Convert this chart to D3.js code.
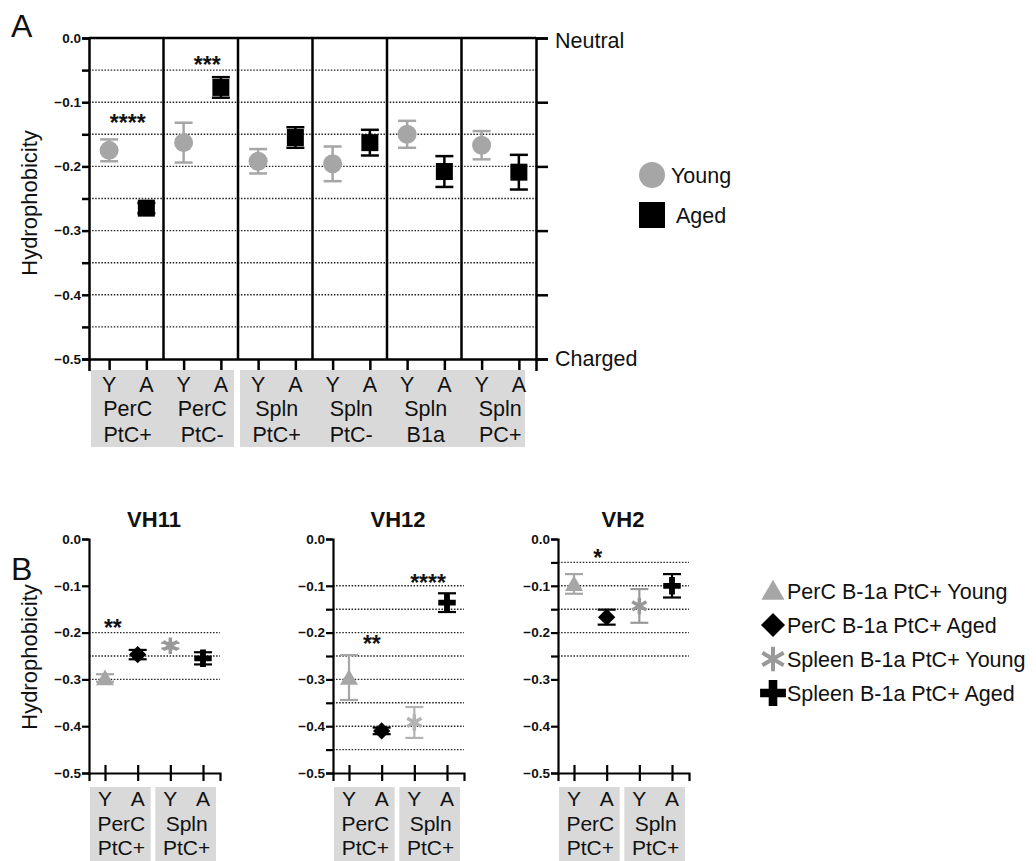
<!DOCTYPE html>
<html>
<head>
<meta charset="utf-8">
<script src="https://cdn.jsdelivr.net/npm/d3@7"></script>
<style>
  body { margin: 0; background: #fff; }
  text { font-family: "Liberation Sans", Arial, Helvetica, sans-serif; fill: #111; }
</style>
</head>
<body>
<svg id="chart" width="1036" height="861"></svg>
<script>
// ---- panel A data ----
const groupsA = ["PerC PtC+", "PerC PtC-", "Spln PtC+", "Spln PtC-", "Spln B1a", "Spln PC+"];
const youngMeanA = [-0.175, -0.163, -0.192, -0.196, -0.150, -0.167];
const youngErrA = [0.017, 0.031, 0.019, 0.027, 0.021, 0.022];
const agedMeanA = [-0.265, -0.077, -0.155, -0.163, -0.208, -0.209];
const agedErrA = [0.008, 0.016, 0.016, 0.020, 0.024, 0.027];
const starsA = [{group: 0, y: -0.125, label: "****"}, {group: 1, y: -0.034, label: "***"}];
const ticksA = [0, -0.1, -0.2, -0.3, -0.4, -0.5];
const gridA = [-0.05, -0.1, -0.15, -0.2, -0.25, -0.3, -0.35, -0.4, -0.45];

// ---- panel B data ----
const catsB = ["PerC Y", "PerC A", "Spln Y", "Spln A"];
const seriesB = ["PerC B-1a PtC+ Young", "PerC B-1a PtC+ Aged", "Spleen B-1a PtC+ Young", "Spleen B-1a PtC+ Aged"];
const titlesB = ["VH11", "VH12", "VH2"];
const vh11Mean = [-0.297, -0.247, -0.228, -0.255];
const vh11Err = [0.008, 0.010, 0.006, 0.013];
const vh12Mean = [-0.296, -0.410, -0.392, -0.136];
const vh12Err = [0.048, 0.007, 0.033, 0.020];
const vh2Mean = [-0.096, -0.167, -0.143, -0.100];
const vh2Err = [0.021, 0.016, 0.036, 0.025];
const vh11Grid = [-0.2, -0.25, -0.3];
const vh12Grid = [-0.1, -0.15, -0.2, -0.25, -0.3, -0.35, -0.4, -0.45];
const vh2Grid = [-0.05, -0.1, -0.15, -0.2, -0.25];
const vh11Stars = [{x: 0.24, y: -0.179, label: "**"}];
const vh12Stars = [{x: 0.7, y: -0.214, label: "**"}, {x: 2.42, y: -0.083, label: "****"}];
const vh2Stars = [{x: 0.73, y: -0.030, label: "*"}];
const ticksB = [0, -0.1, -0.2, -0.3, -0.4, -0.5];

const svg = d3.select("#chart");
const GRAY = "#a6a6a6", BOXGRAY = "#d9d9d9";
const FS = "21.5px";
const fmt = d3.format(".1f");

// ================= PANEL A =================
const A = {left: 89, right: 536, top: 38, bottom: 359};
const yA = d3.scaleLinear().domain([-0.5, 0]).range([A.bottom, A.top]);
const xPanel = d3.scaleBand().domain(groupsA).range([A.left, A.right]);
const bw = xPanel.bandwidth();
const xY = g => xPanel(g) + bw * 0.27;
const xAg = g => xPanel(g) + bw * 0.77;

svg.append("text").attr("x", 11).attr("y", 37).style("font-size", "32px").text("A");

// dotted grid
svg.append("g").selectAll("line").data(gridA).enter().append("line")
    .attr("x1", A.left).attr("x2", A.right)
    .attr("y1", d => yA(d)).attr("y2", d => yA(d))
    .attr("stroke", "#222").attr("stroke-width", 1.4).attr("stroke-dasharray", "1.5,1.6");

// left axis
const axL = svg.append("g").attr("transform", "translate(" + A.left + ",0)")
    .call(d3.axisLeft(yA).tickValues(d3.range(0, 11).map(i => -i * 0.05))
        .tickFormat(d => (Math.round(d * 100) % 10 === 0 ? fmt(d) : "")).tickSizeOuter(0).tickSize(7).tickPadding(1));
axL.select(".domain").attr("stroke-width", 2.5);
axL.selectAll(".tick line").attr("stroke-width", 2.5);
axL.selectAll(".tick text").style("font-size", "13.5px").style("font-weight", "bold");

// right axis
const axR = svg.append("g").attr("transform", "translate(" + A.right + ",0)")
    .call(d3.axisRight(yA).tickValues(ticksA).tickFormat("").tickSizeOuter(0).tickSize(12));
axR.select(".domain").attr("stroke-width", 2.5);
axR.selectAll(".tick line").attr("stroke-width", 2.5);
svg.append("text").attr("x", 555).attr("y", yA(0) + 10).style("font-size", FS).text("Neutral");
svg.append("text").attr("x", 555).attr("y", yA(-0.5) + 7).style("font-size", FS).text("Charged");

// top line and panel dividers
svg.append("line").attr("x1", A.left).attr("x2", A.right).attr("y1", A.top).attr("y2", A.top)
    .attr("stroke", "#000").attr("stroke-width", 2.5);
svg.append("g").selectAll("line").data(groupsA.slice(1)).enter().append("line")
    .attr("x1", d => xPanel(d)).attr("x2", d => xPanel(d))
    .attr("y1", A.top).attr("y2", A.bottom)
    .attr("stroke", "#000").attr("stroke-width", 2.5);

// bottom axis
const xTicksA = [];
groupsA.forEach(g => { xTicksA.push(xY(g)); xTicksA.push(xAg(g)); });
const xAxA = d3.scaleLinear().domain([A.left, A.right]).range([A.left, A.right]);
const axB = svg.append("g").attr("transform", "translate(0," + A.bottom + ")")
    .call(d3.axisBottom(xAxA).tickValues(xTicksA).tickFormat("").tickSizeOuter(0).tickSize(12));
axB.select(".domain").attr("stroke-width", 2.5);
axB.selectAll(".tick line").attr("stroke-width", 2.5);

// category boxes
const boxesA = [[0, 1], [2, 5]];
boxesA.forEach(b => {
  svg.append("rect")
      .attr("x", xPanel(groupsA[b[0]]) + 2).attr("y", 370)
      .attr("width", xPanel(groupsA[b[1]]) + bw - xPanel(groupsA[b[0]]) - (b[1] === 5 ? 13 : 6)).attr("height", 77)
      .attr("fill", BOXGRAY);
});
groupsA.forEach(g => {
  const parts = g.split(" ");
  svg.append("text").attr("x", xY(g)).attr("y", 392).attr("text-anchor", "middle").style("font-size", FS).text("Y");
  svg.append("text").attr("x", xAg(g)).attr("y", 392).attr("text-anchor", "middle").style("font-size", FS).text("A");
  const cx = (xY(g) + xAg(g)) / 2;
  svg.append("text").attr("x", cx).attr("y", 416).attr("text-anchor", "middle").style("font-size", FS).text(parts[0]);
  svg.append("text").attr("x", cx).attr("y", 442).attr("text-anchor", "middle").style("font-size", FS).text(parts[1]);
});

// error bars + markers
function errBar(g, x, m, e, color, cap) {
  g.append("line").attr("x1", x).attr("x2", x).attr("y1", yA(m - e)).attr("y2", yA(m + e))
      .attr("stroke", color).attr("stroke-width", 2.5);
  [m - e, m + e].forEach(v => g.append("line").attr("x1", x - cap).attr("x2", x + cap)
      .attr("y1", yA(v)).attr("y2", yA(v)).attr("stroke", color).attr("stroke-width", 2.5));
}
const gA = svg.append("g");
groupsA.forEach((g, i) => {
  errBar(gA, xY(g), youngMeanA[i], youngErrA[i], GRAY, 9);
  gA.append("circle").attr("cx", xY(g)).attr("cy", yA(youngMeanA[i])).attr("r", 9.5).attr("fill", GRAY);
  errBar(gA, xAg(g), agedMeanA[i], agedErrA[i], "#000", 9);
  gA.append("rect").attr("x", xAg(g) - 8.5).attr("y", yA(agedMeanA[i]) - 8.5)
      .attr("width", 17).attr("height", 17).attr("fill", "#000");
});
starsA.forEach(s => {
  const g = groupsA[s.group];
  svg.append("text").attr("x", (xY(g) + xAg(g)) / 2 + (s.group === 1 ? 5 : 0))
      .attr("y", yA(s.y) + 13).attr("text-anchor", "middle")
      .style("font-size", "23px").style("font-weight", "bold").text(s.label);
});

// legend A
svg.append("circle").attr("cx", 652).attr("cy", 175).attr("r", 13).attr("fill", GRAY);
svg.append("text").attr("x", 671).attr("y", 183).style("font-size", FS).text("Young");
svg.append("rect").attr("x", 639).attr("y", 202).attr("width", 26).attr("height", 26).attr("fill", "#000");
svg.append("text").attr("x", 676).attr("y", 223).style("font-size", FS).text("Aged");

svg.append("text").attr("transform", "translate(29,203) rotate(-90)").attr("text-anchor", "middle")
    .attr("dy", "0.35em").style("font-size", "22px").text("Hydrophobicity");

// ================= PANEL B =================
svg.append("text").attr("x", 11).attr("y", 580).style("font-size", "32px").text("B");
svg.append("text").attr("transform", "translate(29,657) rotate(-90)").attr("text-anchor", "middle")
    .attr("dy", "0.35em").style("font-size", "22px").text("Hydrophobicity");

const yB = d3.scaleLinear().domain([-0.5, 0]).range([773, 539]);
const subplots = [
  {title: titlesB[0], x0: 89, mean: vh11Mean, err: vh11Err, grid: vh11Grid, stars: vh11Stars, minor: [], astColor: "#999"},
  {title: titlesB[1], x0: 333, mean: vh12Mean, err: vh12Err, grid: vh12Grid, stars: vh12Stars, minor: [-0.15, -0.25, -0.35, -0.45], astColor: "#b3b3b3"},
  {title: titlesB[2], x0: 558, mean: vh2Mean, err: vh2Err, grid: vh2Grid, stars: vh2Stars, minor: [-0.05, -0.15, -0.25], astColor: "#999"}
];
const colorsB = [GRAY, "#000", "#999", "#000"];
const symbolTypes = [d3.symbolTriangle, d3.symbolSquare, d3.symbolAsterisk, d3.symbolCross];
const plotSizes = [140, 150, 190, 170];
const legendSizes = [230, 290, 430, 370];

function drawMarker(g, i, x, y, size, color) {
  const p = g.append("path").attr("d", d3.symbol().type(symbolTypes[i]).size(size)())
      .attr("transform", "translate(" + x + "," + y + ")" + (i === 1 ? " rotate(45)" : ""));
  if (i === 2) p.attr("fill", "none").attr("stroke", color).attr("stroke-width", size > 300 ? 4 : 3.5);
  else p.attr("fill", color);
  return p;
}

subplots.forEach(sp => {
  const x = d3.scalePoint().domain(catsB).range([sp.x0 + 16, sp.x0 + 114]);
  const g = svg.append("g");
  g.append("text").attr("x", sp.x0 + 65).attr("y", 527).attr("text-anchor", "middle")
      .style("font-size", "22px").style("font-weight", "bold").text(sp.title);
  g.selectAll(".grid").data(sp.grid).enter().append("line")
      .attr("x1", sp.x0).attr("x2", sp.x0 + 131)
      .attr("y1", d => yB(d)).attr("y2", d => yB(d))
      .attr("stroke", "#222").attr("stroke-width", 1.4).attr("stroke-dasharray", "1.5,1.6");
  const axl = g.append("g").attr("transform", "translate(" + sp.x0 + ",0)")
      .call(d3.axisLeft(yB).tickValues(ticksB.concat(sp.minor))
          .tickFormat(d => (ticksB.includes(d) ? fmt(d) : "")).tickSizeOuter(0).tickSize(7).tickPadding(1));
  axl.select(".domain").attr("stroke-width", 2.2);
  axl.selectAll(".tick line").attr("stroke-width", 2.2);
  axl.selectAll(".tick text").style("font-size", "13.5px").style("font-weight", "bold");
  const axb = g.append("g").attr("transform", "translate(0,773)")
      .call(d3.axisBottom(d3.scaleLinear().domain([sp.x0, sp.x0 + 131]).range([sp.x0, sp.x0 + 131]))
          .tickValues(catsB.map(c => x(c))).tickFormat("").tickSizeOuter(0).tickSize(8));
  axb.selectAll(".tick line").attr("stroke-width", 2.2).attr("transform", "translate(0,-8)").attr("y2", 16);
  axb.select(".domain").attr("stroke-width", 2.2);

  // boxes
  [[0, 1, "PerC"], [2, 3, "Spln"]].forEach(b => {
    const xa = x(catsB[b[0]]), xb = x(catsB[b[1]]);
    g.append("rect").attr("x", xa - 15).attr("y", 787).attr("width", xb - xa + 28).attr("height", 80).attr("fill", BOXGRAY);
    g.append("text").attr("x", xa).attr("y", 806).attr("text-anchor", "middle").style("font-size", "21px").text("Y");
    g.append("text").attr("x", xb).attr("y", 806).attr("text-anchor", "middle").style("font-size", "21px").text("A");
    g.append("text").attr("x", (xa + xb) / 2).attr("y", 831).attr("text-anchor", "middle").style("font-size", "21px").text(b[2]);
    g.append("text").attr("x", (xa + xb) / 2).attr("y", 855).attr("text-anchor", "middle").style("font-size", "21px").text("PtC+");
  });

  catsB.forEach((c, i) => {
    const cx = x(c), m = sp.mean[i], e = sp.err[i];
    const col = i === 2 ? sp.astColor : colorsB[i];
    g.append("line").attr("x1", cx).attr("x2", cx).attr("y1", yB(m - e)).attr("y2", yB(m + e))
        .attr("stroke", col).attr("stroke-width", 2.2);
    [m - e, m + e].forEach(v => g.append("line").attr("x1", cx - 9).attr("x2", cx + 9)
        .attr("y1", yB(v)).attr("y2", yB(v)).attr("stroke", col).attr("stroke-width", 2.2));
    drawMarker(g, i, cx, yB(m) + (i === 0 ? 2 : 0), plotSizes[i], col);
  });
  sp.stars.forEach(s => {
    const xs = x(catsB[0]) + s.x * (x(catsB[1]) - x(catsB[0]));
    g.append("text").attr("x", xs).attr("y", yB(s.y) + 13).attr("text-anchor", "middle")
        .style("font-size", "23px").style("font-weight", "bold").text(s.label);
  });
});

// legend B
seriesB.forEach((s, i) => {
  const base = 599 + i * 34;
  drawMarker(svg, i, 773, base - 8 + (i === 0 ? 2 : 0), legendSizes[i], colorsB[i]);
  svg.append("text").attr("x", 787).attr("y", base).style("font-size", FS).text(s);
});
</script>
</body>
</html>
